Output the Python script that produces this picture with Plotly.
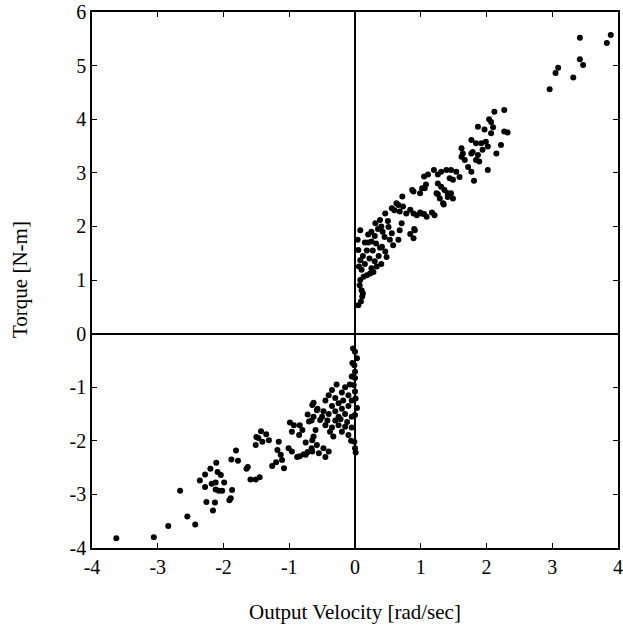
import plotly.graph_objects as go

# Output velocity [rad/sec] and torque [N-m]
vel_upper = [
    2.96, 3.05, 3.09, 3.32, 3.42, 3.42, 3.47, 3.83, 3.89,
    2.27, 2.12, 2.04, 1.87, 1.97, 2.07, 2.10, 2.27, 2.32, 2.07,
    1.77, 1.84, 1.92, 1.99, 2.02, 1.94, 1.87, 1.79, 2.22, 2.15,
    1.62, 1.64, 1.67, 1.62, 1.77, 1.84, 1.89, 1.72, 1.77, 1.81, 2.02,
    1.31, 1.39, 1.46, 1.54, 1.44, 1.49, 1.59, 1.31, 1.36, 1.46, 1.49, 1.34,
    1.20, 1.26, 1.05, 1.11, 1.02, 1.08, 1.26, 1.35, 1.41,
    1.17, 0.99, 1.05, 0.87, 0.72, 0.84, 0.90,
    1.24, 1.29, 1.41, 1.26,
    0.31, 0.38, 0.46, 0.56, 0.66, 0.73, 0.63, 0.60, 0.68,
    0.51, 0.56, 0.53, 0.58, 0.66, 0.68, 0.71,
    0.78, 0.84, 0.89, 0.89, 0.99, 1.06, 0.91, 0.89,
    0.94, 1.01, 1.09, 1.21,
    0.41, 0.46, 0.48,
    0.20, 0.25, 0.32, 0.38, 0.36, 0.30, 0.22, 0.18, 0.27, 0.33, 0.25, 0.40,
    0.18, 0.23, 0.13, 0.28,
    0.35, 0.42, 0.25, 0.30, 0.45, 0.40, 0.50, 0.20, 0.15, 0.12, 0.15,
    0.08, 0.05, 0.08, 0.10, 0.08, 0.10, 0.11, 0.05, 0.07, 0.06, 0.04, 0.12, 0.09,
]
torque_upper = [
    4.56, 4.86, 4.96, 4.78, 5.52, 5.12, 5.01, 5.42, 5.57,
    4.17, 4.14, 4.00, 3.86, 3.81, 3.95, 3.85, 3.77, 3.75, 3.74,
    3.61, 3.55, 3.55, 3.58, 3.49, 3.43, 3.33, 3.39, 3.52, 3.36,
    3.46, 3.36, 3.24, 3.30, 3.36, 3.24, 3.21, 3.11, 3.02, 2.85, 3.05,
    3.02, 3.05, 3.05, 3.02, 2.90, 2.87, 2.92, 2.74, 2.68, 2.62, 2.52, 2.43,
    3.05, 2.97, 2.93, 2.97, 2.71, 2.78, 2.60, 2.41, 2.55,
    2.26, 2.26, 2.23, 2.68, 2.56, 1.86, 1.95,
    2.62, 2.52, 2.62, 2.80,
    2.06, 2.12, 2.24, 2.34, 2.40, 2.37, 2.43, 2.30, 2.28,
    1.99, 1.87, 1.75, 1.65, 1.75, 1.93, 2.06,
    2.24, 2.31, 2.24, 2.65, 2.62, 2.71, 1.93, 1.78,
    2.21, 2.24, 2.18, 2.21,
    1.62, 1.53, 1.43,
    1.70, 1.72, 1.68, 1.60, 1.45, 1.35, 1.40, 1.55, 1.55, 1.25, 1.22, 1.30,
    1.09, 1.12, 1.06, 1.15,
    1.95, 1.90, 1.90, 1.82, 1.80, 2.00, 2.10, 1.85, 1.70, 1.45, 1.30,
    1.93, 1.56, 1.37, 1.19, 1.00, 0.81, 0.69, 0.53, 0.90, 1.25, 1.75, 0.75, 0.60,
]

vel_lower = [
    -3.63, -3.06, -2.84, -2.66, -2.55, -2.43,
    -2.36, -2.28, -2.20, -2.11, -2.28, -2.18, -2.12, -2.09, -2.04,
    -2.12, -2.07, -2.02, -1.99, -2.26, -2.13, -2.16, -1.87, -1.91, -1.89,
    -1.81, -1.88, -1.78, -1.63, -1.65, -1.59, -1.51, -1.45, -1.50, -1.43, -1.47,
    -1.51, -1.41, -1.31, -1.35, -1.16, -1.18, -1.13, -1.11, -1.26, -1.20, -1.08,
    -1.01, -0.96, -0.88, -0.75, -0.65, -0.96, -0.85, -0.80, -0.99, -0.93, -0.84,
    -0.65, -0.58, -0.48, -0.40, -0.45, -0.55, -0.72, -0.84, -0.78,
    -0.72, -0.75, -0.66, -0.63, -0.60, -0.66, -0.63, -0.57,
    -0.65, -0.58, -0.63, -0.70, -0.53, -0.45, -0.38, -0.33, -0.25, -0.20, -0.15, -0.10,
    -0.45, -0.40, -0.35, -0.30, -0.25, -0.20, -0.15, -0.10, -0.20, -0.30, -0.35, -0.40,
    -0.25, -0.15, -0.10, -0.05, -0.12, -0.22, -0.30, -0.48, -0.50, -0.42, -0.18, -0.28,
    -0.08, -0.05, -0.35, -0.05,
    0.00, 0.03, -0.01, 0.00, 0.00, -0.02, 0.00, 0.01, 0.03, 0.00, -0.01, 0.00, 0.01,
    -0.03, -0.04, -0.05, -0.06,
]
torque_lower = [
    -3.82, -3.80, -3.59, -2.93, -3.41, -3.56,
    -2.74, -2.63, -2.52, -2.41, -2.86, -2.80, -2.78, -2.58, -2.64,
    -2.91, -2.93, -2.93, -2.78, -3.14, -3.15, -3.30, -2.92, -3.11, -3.07,
    -2.18, -2.35, -2.37, -2.49, -2.52, -2.72, -2.72, -2.68, -1.93, -1.82, -1.95,
    -2.08, -2.02, -1.99, -1.88, -2.02, -2.17, -2.26, -2.36, -2.47, -2.40, -2.51,
    -2.14, -2.20, -2.30, -2.26, -2.20, -1.83, -1.89, -1.80, -1.66, -1.71, -1.71,
    -1.99, -2.08, -2.14, -2.20, -2.30, -2.23, -2.21, -2.29, -2.25,
    -1.51, -2.03, -2.14, -1.92, -1.80, -1.62, -1.29, -1.40,
    -1.33, -1.43, -1.55, -1.64, -1.61, -1.71, -1.83, -1.92, -1.71, -1.83, -1.74, -1.89,
    -1.25, -1.15, -1.05, -1.20, -1.30, -1.10, -1.00, -1.15, -1.40, -1.45, -1.35, -1.50,
    -1.55, -1.50, -1.35, -1.25, -1.65, -1.60, -1.62, -1.45, -1.55, -1.62, -1.25, -0.95,
    -0.95, -1.55, -1.75, -1.75,
    -0.34, -0.46, -0.59, -0.71, -0.83, -0.96, -1.08, -1.21, -1.39, -1.52, -2.02, -2.14, -2.22,
    -0.28, -0.55, -0.80, -2.00,
]

x_ticks = [-4, -3, -2, -1, 0, 1, 2, 3, 4]
x_tick_labels = ["-4", "-3", "-2", "-1", "0", "1", "2", "3", "4"]
y_ticks = [-4, -3, -2, -1, 0, 1, 2, 3, 4, 5, 6]
y_tick_labels = ["-4", "-3", "-2", "-1", "0", "1", "2", "3", "4", "5", "6"]

SERIF = "Liberation Serif"
TICK_FONT = dict(family=SERIF, size=20, color="black")

fig = go.Figure()
fig.add_trace(go.Scatter(
    x=vel_upper + vel_lower,
    y=torque_upper + torque_lower,
    mode="markers",
    marker=dict(color="black", size=6, line=dict(width=0)),
    showlegend=False,
))

axis_style = dict(
    tickmode="array", tickfont=TICK_FONT, ticklabeloverflow="allow",
    showgrid=False, showline=True, linecolor="black", linewidth=1.5, mirror="ticks",
    ticks="inside", ticklen=5, tickwidth=1.2, tickcolor="black",
    zeroline=True, zerolinecolor="black", zerolinewidth=1.8, automargin=False,
)

fig.update_layout(
    width=623, height=629,
    margin=dict(l=92, r=5, t=12, b=81),
    paper_bgcolor="white", plot_bgcolor="white",
    font=dict(family=SERIF, size=20, color="black"),
    xaxis=dict(range=[-4, 4], tickvals=x_ticks, ticktext=x_tick_labels, **axis_style),
    yaxis=dict(range=[-4, 6], tickvals=y_ticks, ticktext=y_tick_labels, **axis_style),
)

fig.add_annotation(text="Torque [N-m]", xref="paper", yref="paper", x=0, y=0.5,
                   xanchor="center", yanchor="middle", xshift=-72, textangle=-90,
                   showarrow=False, font=dict(family=SERIF, size=21, color="black"))
fig.add_annotation(text="Output Velocity [rad/sec]", xref="paper", yref="paper", x=0.5, y=0,
                   xanchor="center", yanchor="middle", yshift=-64,
                   showarrow=False, font=dict(family=SERIF, size=21, color="black"))

# remove the page's default 8px body margin so the figure starts at the window corner
fig.write_html("out.html", config={"displayModeBar": False},
               post_script="document.body.style.margin='0px';")
